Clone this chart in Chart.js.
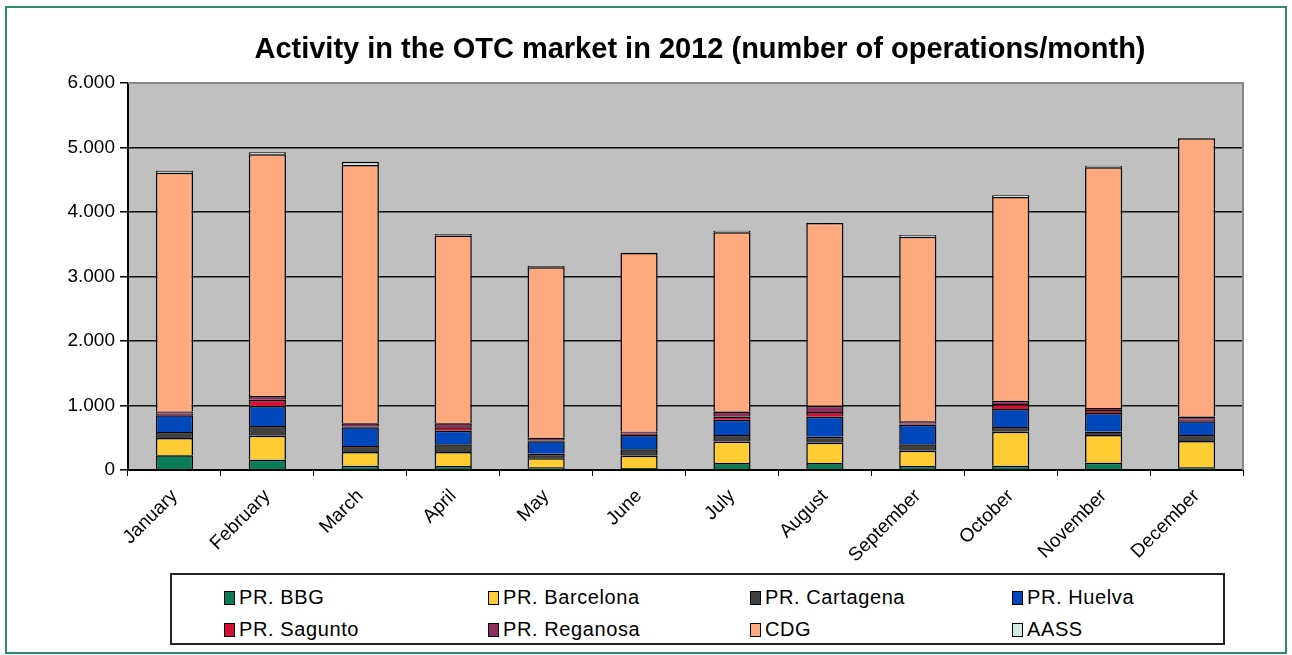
<!DOCTYPE html>
<html>
<head>
<meta charset="utf-8">
<script src="https://cdn.jsdelivr.net/npm/chart.js@4/dist/chart.umd.min.js"></script>
<style>
  body { margin: 0; background: #fff; font-family: Arial, "Liberation Sans", sans-serif; }
  .frame { position: absolute; left: 5px; top: 6px; width: 1278px; height: 644px; border: 2px solid #2a8c6c; }
  .my-chart { position: absolute; left: 0; top: 0; }
  .head-title { position: absolute; left: 200px; width: 1000px; top: 30px; text-align: center; font-size: 29px; font-weight: bold; line-height: 36px; color: #000; white-space: nowrap; }
  .legend-box { position: absolute; left: 170px; top: 573px; width: 1051px; height: 68px; border: 2px solid #222; background: #fff; }
  .legend-item { position: absolute; font-size: 20px; letter-spacing: 0.6px; color: #000; white-space: nowrap; line-height: 24px; }
  .legend-item span { display: inline-block; width: 9px; height: 12px; border: 1px solid #000; margin-right: 4px; vertical-align: -1px; }
</style>
</head>
<body>
<div class="frame"></div>
<canvas class="my-chart" width="1292" height="655"></canvas>
<div class="head-title">Activity in the OTC market in 2012 (number of operations/month)</div>
<div class="legend-box"></div>
<script>
const months = ["January", "February", "March", "April", "May", "June", "July",
  "August", "September", "October", "November", "December"];
const seriesNames = ["PR. BBG", "PR. Barcelona", "PR. Cartagena", "PR. Huelva",
  "PR. Sagunto", "PR. Reganosa", "CDG", "AASS"];

const bbg = [227, 160, 67, 62, 41, 31, 109, 109, 62, 67, 114, 41];
const barcelona = [269, 372, 212, 217, 140, 191, 331, 315, 238, 527, 429, 408];
const cartagena = [93, 150, 93, 119, 72, 98, 103, 93, 98, 72, 52, 93];
const huelva = [258, 310, 290, 212, 191, 222, 238, 310, 305, 279, 290, 212];
const sagunto = [30, 98, 10, 52, 15, 25, 47, 72, 15, 78, 47, 25];
const reganosa = [30, 57, 52, 62, 41, 25, 78, 98, 36, 52, 31, 52];
const cdg = [3703, 3749, 4006, 2910, 2643, 2771, 2779, 2832, 2864, 3159, 3730, 4311];
const aass = [30, 30, 50, 25, 20, 5, 25, 5, 25, 25, 25, 5];

const yTicks = [0, 1000, 2000, 3000, 4000, 5000, 6000];

const colors = ["#0a7d58", "#ffcc33", "#404040", "#0047bb", "#d41038", "#8e2f60", "#ffa97e", "#d4ebe4"];
const allSeries = [bbg, barcelona, cartagena, huelva, sagunto, reganosa, cdg, aass];

// plot background + grey frame on top/right
const plotBg = {
  id: "plotBg",
  beforeDraw(chart) {
    const { ctx, chartArea: a } = chart;
    ctx.save();
    ctx.fillStyle = "#c0c0c0";
    ctx.fillRect(a.left, a.top, a.right - a.left, a.bottom - a.top);
    ctx.restore();
  },
  beforeDatasetsDraw(chart) {
    const { ctx, chartArea: a } = chart;
    ctx.save();
    ctx.strokeStyle = "#888";
    ctx.lineWidth = 2;
    ctx.beginPath();
    ctx.moveTo(a.left, a.top);
    ctx.lineTo(a.right, a.top);
    ctx.lineTo(a.right, a.bottom);
    ctx.stroke();
    ctx.restore();
  },
};

const myChart = document.querySelector(".my-chart");

new Chart(myChart, {
  type: "bar",
  data: {
    labels: months,
    datasets: allSeries.map((vals, i) => ({
      label: seriesNames[i],
      data: vals,
      backgroundColor: colors[i],
      borderColor: "#000",
      borderWidth: 1.5,
      categoryPercentage: 1,
      barPercentage: 0.4,
    })),
  },
  options: {
    responsive: false,
    animation: false,
    layout: { padding: { left: 30, right: 49, top: 83, bottom: 85 } },
    plugins: {
      legend: { display: false },
      tooltip: { enabled: false },
      title: { display: false },
    },
    scales: {
      x: {
        stacked: true,
        afterFit: (s) => { s.height = 100; },
        grid: { drawOnChartArea: false, drawTicks: true, tickLength: 6, tickColor: "#000", offset: true },
        border: { color: "#000", width: 2 },
        ticks: {
          color: "#000",
          font: { family: "Arial, 'Liberation Sans'", size: 19 },
          minRotation: 45,
          maxRotation: 45,
          padding: 9,
          autoSkip: false,
        },
      },
      y: {
        stacked: true,
        min: 0,
        max: 6000,
        afterFit: (s) => { s.width = 98; },
        afterBuildTicks: (s) => { s.ticks = yTicks.map((v) => ({ value: v })); },
        grid: {
          color: (c) => (c.tick && c.tick.value === 6000 ? "#888" : "#111"),
          lineWidth: 1.5,
          tickLength: 8,
          tickColor: "#000",
        },
        border: { color: "#000", width: 2 },
        ticks: {
          color: "#000",
          padding: 5,
          font: { family: "Arial, 'Liberation Sans'", size: 19 },
          callback: (v) => v.toLocaleString("de-DE"),
        },
      },
    },
  },
  plugins: [plotBg],
});

// legend, 4 columns x 2 rows
const legendBox = document.querySelector(".legend-box");
const colX = [52, 316, 578, 840];
seriesNames.forEach((name, i) => {
  const item = document.createElement("div");
  item.className = "legend-item";
  item.style.left = colX[i % 4] + "px";
  item.style.top = (i < 4 ? 10 : 42) + "px";
  item.innerHTML = '<span style="background:' + colors[i] + '"></span>' + name;
  legendBox.appendChild(item);
});
</script>
</body>
</html>
